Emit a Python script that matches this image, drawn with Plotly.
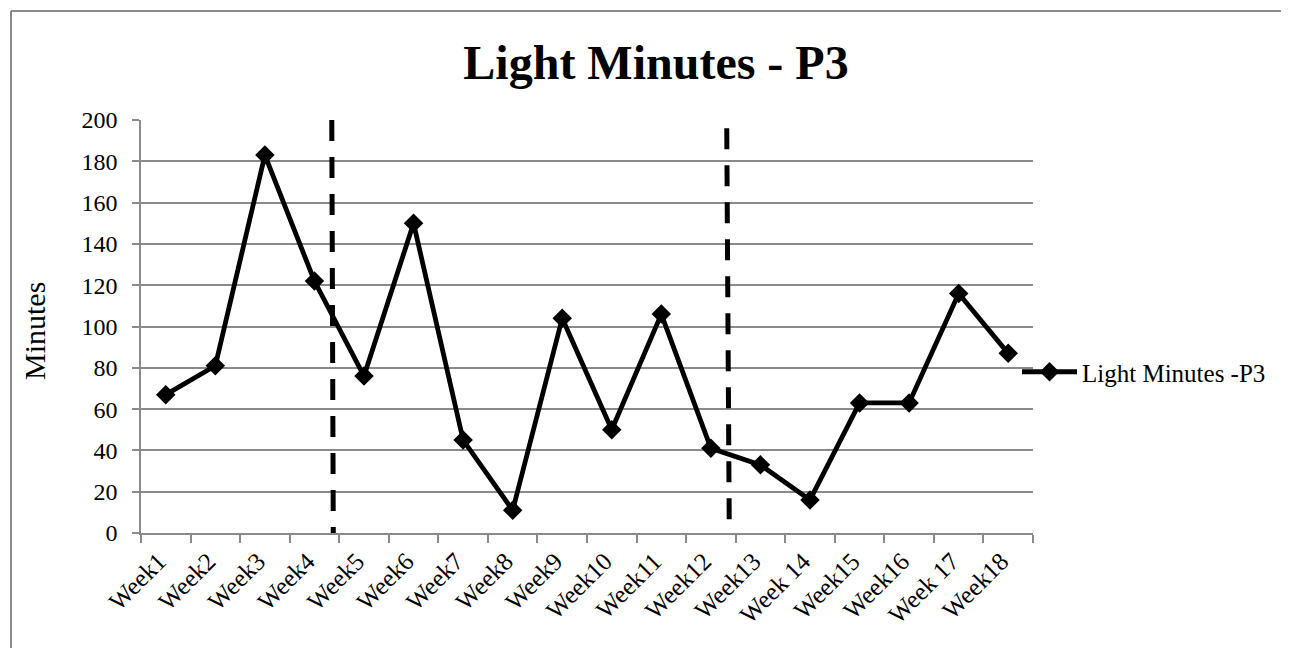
import plotly.graph_objects as go

# ---- data ----
weeks = ["Week1", "Week2", "Week3", "Week4", "Week5", "Week6", "Week7", "Week8", "Week9",
         "Week10", "Week11", "Week12", "Week13", "Week 14", "Week15", "Week16", "Week 17", "Week18"]
minutes = [67, 81, 183, 122, 76, 150, 45, 11, 104, 50, 106, 41, 33, 16, 63, 63, 116, 87]
y_ticks = [0, 20, 40, 60, 80, 100, 120, 140, 160, 180, 200]
series_name = "Light Minutes -P3"
chart_title = "Light Minutes - P3"
y_title = "Minutes"

# phase separators (category index, value) - top and bottom ends
sep_top_x = [3.35, 11.32]
sep_top_y = [200, 196]
sep_bot_x = [3.38, 11.37]
sep_bot_y = [0, 5.5]

FONT = "Liberation Serif, Times New Roman, serif"
GRAY = "#8a8a8a"

fig = go.Figure()
fig.add_trace(go.Scatter(
    x=weeks, y=minutes, mode="lines+markers", name=series_name,
    line=dict(color="black", width=4.8),
    marker=dict(symbol="diamond", size=15, color="black"),
    cliponaxis=False,
))

for x0, y0, x1, y1 in zip(sep_top_x, sep_top_y, sep_bot_x, sep_bot_y):
    fig.add_shape(type="line", xref="x", yref="y", x0=x0, y0=y0, x1=x1, y1=y1,
                  line=dict(color="black", width=5, dash="21px,16px"), layer="above")

# outer frame (top and left edges visible)
fig.add_shape(type="line", xref="paper", yref="paper", x0=(11-141)/892, x1=(1281-141)/892,
              y0=(533-11)/413, y1=(533-11)/413, line=dict(color=GRAY, width=2))
fig.add_shape(type="line", xref="paper", yref="paper", x0=(11-141)/892, x1=(11-141)/892,
              y0=(533-11)/413, y1=(533-660)/413, line=dict(color=GRAY, width=2))

fig.add_annotation(text=y_title, xref="paper", yref="paper", x=(34-141)/892, y=(533-331)/413,
                   textangle=-90, showarrow=False, font=dict(family=FONT, size=30, color="black"),
                   xanchor="center", yanchor="middle")

fig.update_layout(
    width=1291, height=648,
    paper_bgcolor="white", plot_bgcolor="white",
    margin=dict(l=141, r=258, t=120, b=115),
    title=dict(text="<b>" + chart_title + "</b>", x=656/1291, xanchor="center",
               y=1-62/648, yanchor="middle", font=dict(family=FONT, size=48, color="black")),
    font=dict(family=FONT, color="black"),
    showlegend=True,
    legend=dict(x=(1017-141)/892, y=(533-372)/413, xanchor="left", yanchor="middle",
                font=dict(family=FONT, size=25, color="black"), bgcolor="rgba(0,0,0,0)",
                itemwidth=55),
    xaxis=dict(type="category", range=[-0.5, 17.5], showgrid=False, showline=True,
               linecolor=GRAY, linewidth=1.5, ticks="outside", tickson="boundaries",
               ticklen=8, tickcolor=GRAY, tickwidth=1.5, tickangle=-45,
               ticklabelstandoff=2, ticklabelshift=-7,
               tickfont=dict(family=FONT, size=25, color="black")),
    yaxis=dict(range=[0, 200], tickvals=y_ticks, showgrid=True, gridcolor=GRAY, gridwidth=1.5,
               zeroline=False, showline=True, linecolor=GRAY, linewidth=1.5,
               ticks="outside", ticklen=7, tickcolor=GRAY, tickwidth=1.5,
               ticklabelstandoff=10,
               tickfont=dict(family=FONT, size=24, color="black")),
)

fig.write_html("out.html")
